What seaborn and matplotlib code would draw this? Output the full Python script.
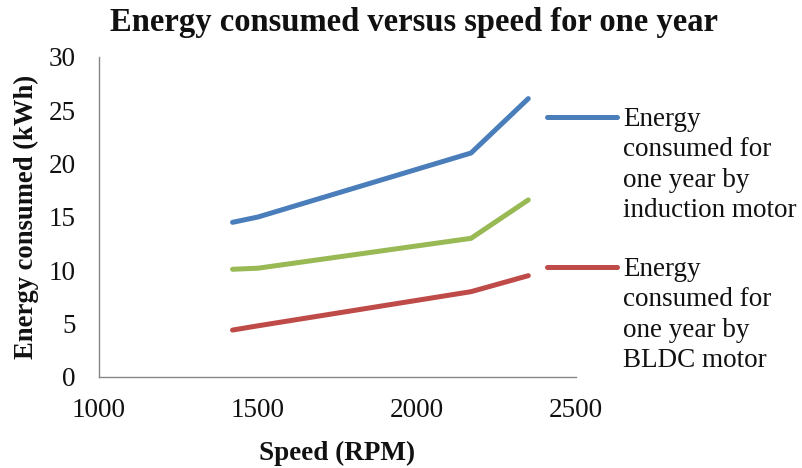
import matplotlib
matplotlib.use("Agg")
import matplotlib.pyplot as plt
from matplotlib.lines import Line2D
import seaborn as sns
import pandas as pd

# Motor speed (RPM) and yearly energy consumption (kWh)
speed_rpm = [1420, 1500, 2170, 2350]
energy_induction = [14.5, 15.0, 21.0, 26.1]
energy_saved = [10.1, 10.2, 13.0, 16.6]
energy_bldc = [4.4, 4.8, 8.0, 9.5]

series_names = [
    "Energy consumed for one year by induction motor",
    "Energy saved",
    "Energy consumed for one year by BLDC motor",
]
series_colors = ["#4A7EBB", "#98B954", "#BE4B48"]
legend_labels = [
    "Energy\nconsumed for\none year by\ninduction motor",
    "Energy\nconsumed for\none year by\nBLDC motor",
]
x_ticks = [1000, 1500, 2000, 2500]
y_ticks = [0, 5, 10, 15, 20, 25, 30]

df = pd.concat(
    [
        pd.DataFrame({"Speed": speed_rpm, "Energy": vals, "Series": name})
        for name, vals in zip(series_names, [energy_induction, energy_saved, energy_bldc])
    ],
    ignore_index=True,
)

sns.set_style("white")
plt.rcParams["font.family"] = ["Liberation Serif", "DejaVu Serif"]

fig = plt.figure(figsize=(8.02, 4.68), dpi=100)
ax = fig.add_axes([99 / 802, 1 - 377 / 468, (576 - 99) / 802, (377 - 57) / 468])

sns.lineplot(
    data=df, x="Speed", y="Energy", hue="Series",
    palette=dict(zip(series_names, series_colors)),
    linewidth=3.6, legend=False, ax=ax, sort=False,
    solid_capstyle="round", solid_joinstyle="round",
)

ax.set_xlim(1000, 2500)
ax.set_ylim(0, 30)
ax.set_xticks(x_ticks)
ax.set_yticks(y_ticks)
ax.tick_params(axis="both", length=0, labelsize=19.5, colors="#111111")
ax.tick_params(axis="x", pad=15)
ax.tick_params(axis="y", pad=17)

for side in ["top", "right"]:
    ax.spines[side].set_visible(False)
for side in ["left", "bottom"]:
    ax.spines[side].set_color("#868686")
    ax.spines[side].set_linewidth(1.0)

ax.set_xlabel("Speed (RPM)", fontsize=19.5, fontweight="bold", labelpad=13,
              color="#111111")
ax.set_ylabel("Energy consumed (kWh)", fontsize=19.2, fontweight="bold", labelpad=7,
              color="#111111")

fig.text(414 / 802, 1 - 31 / 468, "Energy consumed versus speed for one year",
         ha="center", va="baseline", fontsize=23.5, fontweight="bold", color="#111111")

# Legend drawn beside the plot area: a short line followed by wrapped text
legend_rows = [(117, series_colors[0], legend_labels[0]),
               (267, series_colors[2], legend_labels[1])]
for y_px, color, text in legend_rows:
    y = 1 - y_px / 468
    fig.add_artist(Line2D([547 / 802, 617 / 802], [y, y], transform=fig.transFigure,
                          color=color, linewidth=3.6, solid_capstyle="round"))
    fig.text(623 / 802, y + 10 / 468, text, ha="left", va="top",
             fontsize=19.5, linespacing=1.28, color="#111111")

fig.savefig("out.png", dpi=100)
